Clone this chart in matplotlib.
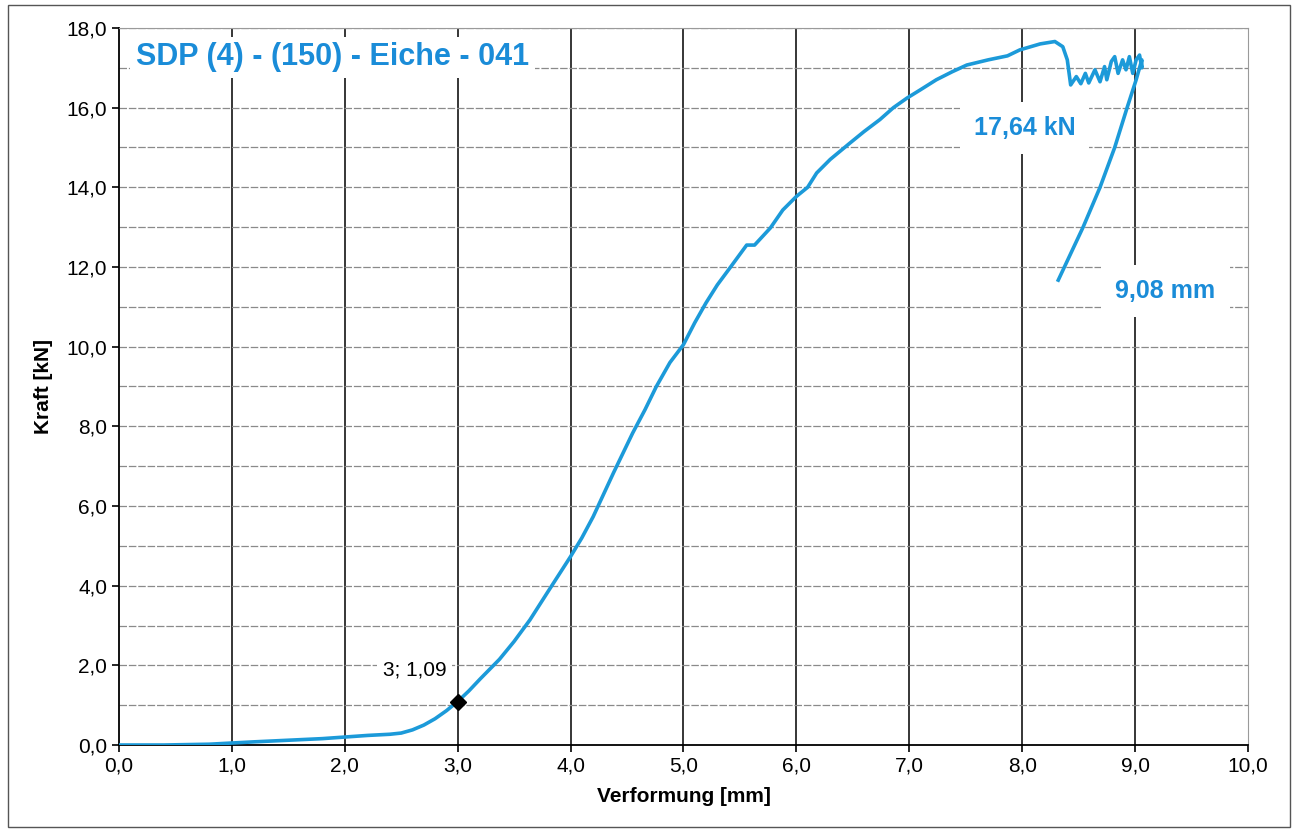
import matplotlib.pyplot as plt
from matplotlib.patches import Rectangle

plt.rcParams['font.family'] = ['Liberation Sans', 'DejaVu Sans']

# Kraft-Verformungs-Kurve
verformung = [0.0, 0.4, 0.8, 1.0, 1.2, 1.5, 1.8, 2.0, 2.2, 2.4, 2.5, 2.6, 2.7,
              2.8, 2.9, 3.0, 3.1, 3.2, 3.37, 3.5, 3.64, 3.8, 4.0, 4.1, 4.2,
              4.38, 4.55, 4.66, 4.76, 4.88, 5.0, 5.1, 5.2, 5.3, 5.41, 5.56,
              5.63, 5.77, 5.88, 6.0, 6.1, 6.18, 6.3, 6.47, 6.6, 6.74, 6.86,
              6.98, 7.1, 7.24, 7.38, 7.51, 7.7, 7.87, 7.98, 8.16, 8.29, 8.36,
              8.4, 8.43, 8.48, 8.52, 8.56, 8.59, 8.645, 8.69, 8.73, 8.75, 8.79,
              8.82, 8.85, 8.89, 8.92, 8.95, 8.98, 9.01, 9.04, 9.06, 9.06,
              9.01, 8.93, 8.82, 8.69, 8.54, 8.32]
kraft = [0.0, 0.0, 0.02, 0.05, 0.08, 0.12, 0.16, 0.2, 0.24, 0.27, 0.3, 0.38,
         0.5, 0.66, 0.86, 1.09, 1.36, 1.66, 2.15, 2.6, 3.14, 3.85, 4.73, 5.2,
         5.73, 6.83, 7.83, 8.42, 9.0, 9.6, 10.05, 10.6, 11.1, 11.55, 11.97,
         12.55, 12.55, 12.98, 13.43, 13.77, 14.0, 14.36, 14.7, 15.1, 15.4,
         15.7, 16.0, 16.24, 16.45, 16.7, 16.9, 17.07, 17.2, 17.3, 17.45, 17.6,
         17.66, 17.53, 17.2, 16.57, 16.78, 16.6, 16.86, 16.62, 16.95, 16.65,
         17.03, 16.7, 17.16, 17.28, 16.86, 17.2, 16.95, 17.28, 16.86, 17.2,
         17.32, 17.0, 17.2, 16.7, 16.0, 15.0, 14.0, 13.0, 11.67]

x_ticks = [0, 1, 2, 3, 4, 5, 6, 7, 8, 9, 10]
y_ticks = [0, 2, 4, 6, 8, 10, 12, 14, 16, 18]
y_minor = [1, 3, 5, 7, 9, 11, 13, 15, 17]

punkt = (3, 1.09)
titel = "SDP (4) - (150) - Eiche - 041"
blau = '#1C9AD9'
text_blau = '#1A8CD8'

fig = plt.figure(figsize=(12.96, 8.30), dpi=100)
ax = fig.add_axes([0.0918, 0.1024, 0.8711, 0.8639])

ax.plot(verformung, kraft, color=blau, linewidth=2.6, zorder=3)
ax.plot(*punkt, marker='D', color='black', markersize=8, zorder=4)

ax.set_xlim(0, 10)
ax.set_ylim(0, 18)
ax.set_xticks(x_ticks)
ax.set_xticklabels([f"{v:.1f}".replace('.', ',') for v in x_ticks])
ax.set_yticks(y_ticks)
ax.set_yticklabels([f"{v:.1f}".replace('.', ',') for v in y_ticks])
ax.set_yticks(y_minor, minor=True)
ax.tick_params(axis='y', which='minor', length=0)
ax.tick_params(labelsize=15, direction='out', length=5, width=1.2)

for v in x_ticks[1:-1]:
    ax.axvline(v, color='black', linewidth=1.1, zorder=1)
for v in y_ticks[1:] + y_minor:
    ax.axhline(v, color='#8a8a8a', linewidth=0.9, linestyle=(0, (6, 1.5)), zorder=1)

for s in ['top', 'right']:
    ax.spines[s].set_color('#9a9a9a')
    ax.spines[s].set_linewidth(0.8)
for s in ['left', 'bottom']:
    ax.spines[s].set_color('black')
    ax.spines[s].set_linewidth(1.3)

ax.set_xlabel("Verformung [mm]", fontsize=15, fontweight='bold', labelpad=8)
ax.set_ylabel("Kraft [kN]", fontsize=15, fontweight='bold', labelpad=10)

box = dict(facecolor='white', edgecolor='none', pad=4)
ax.text(0.15, 17.27, titel, fontsize=22, fontweight='bold', color=text_blau,
        va='center', ha='left', bbox=box, zorder=5)
ax.text(8.02, 15.5, "17,64 kN", fontsize=18, fontweight='bold', color=text_blau,
        va='center', ha='center', bbox=dict(facecolor='white', edgecolor='none', pad=10), zorder=5)
ax.text(9.27, 11.4, "9,08 mm", fontsize=18, fontweight='bold', color=text_blau,
        va='center', ha='center', bbox=dict(facecolor='white', edgecolor='none', pad=10), zorder=5)
ax.text(2.62, 1.88, "3; 1,09", fontsize=15, color='black',
        va='center', ha='center', bbox=box, zorder=5)

fig.patches.append(Rectangle((0.006, 0.004), 0.989, 0.99, transform=fig.transFigure,
                             fill=False, edgecolor='#555555', linewidth=1.0))

fig.savefig('out.png', dpi=100)
